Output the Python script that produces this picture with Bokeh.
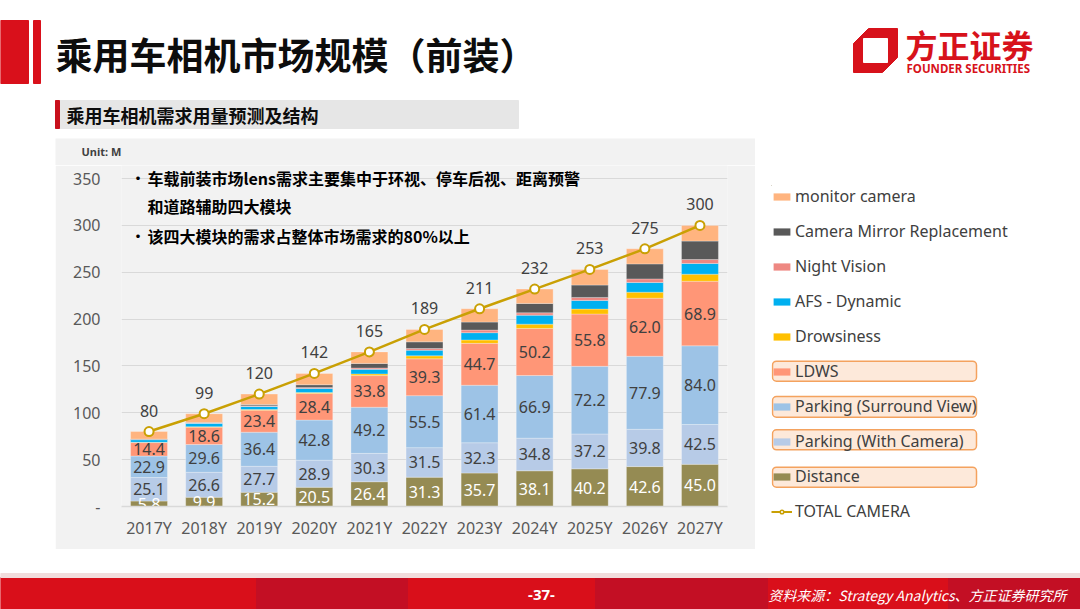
from bokeh.plotting import figure
from bokeh.models import (ColumnDataSource, FactorRange, Range1d, FixedTicker, Label,
                          Legend, LegendItem, BoxAnnotation, Spacer)
from bokeh.layouts import column, row
from bokeh.embed import file_html
from bokeh.resources import INLINE
from bokeh.core.properties import value
import numpy as np

# ---------------- data ----------------
years = ["2017Y", "2018Y", "2019Y", "2020Y", "2021Y", "2022Y", "2023Y", "2024Y", "2025Y", "2026Y", "2027Y"]
distance = [5.8, 9.9, 15.2, 20.5, 26.4, 31.3, 35.7, 38.1, 40.2, 42.6, 45.0]
parking_with_camera = [25.1, 26.6, 27.7, 28.9, 30.3, 31.5, 32.3, 34.8, 37.2, 39.8, 42.5]
parking_surround_view = [22.9, 29.6, 36.4, 42.8, 49.2, 55.5, 61.4, 66.9, 72.2, 77.9, 84.0]
ldws = [14.4, 18.6, 23.4, 28.4, 33.8, 39.3, 44.7, 50.2, 55.8, 62.0, 68.9]
drowsiness = [0.3, 0.5, 0.8, 1.1, 1.8, 3.2, 3.6, 4.6, 5.3, 6.4, 7.5]
afs_dynamic = [2.8, 3.6, 3.2, 4.3, 4.9, 6.0, 7.8, 9.6, 9.2, 10.3, 11.4]
night_vision = [0.1, 0.3, 0.7, 1.1, 1.4, 1.8, 2.8, 2.5, 3.2, 3.9, 4.3]
camera_mirror_replacement = [0.5, 0.6, 1.4, 2.8, 4.9, 7.1, 8.5, 10.0, 13.2, 16.0, 19.6]
monitor_camera = [8.1, 9.3, 11.2, 12.1, 12.3, 13.3, 14.2, 15.3, 16.7, 16.1, 16.8]
total_camera = [80, 99, 120, 142, 165, 189, 211, 232, 253, 275, 300]

y_ticks = [0, 50, 100, 150, 200, 250, 300, 350]

stack_keys = ["distance", "parking_wc", "parking_sv", "ldws", "drowsiness",
              "afs", "night", "cmr", "monitor"]
stack_values = [distance, parking_with_camera, parking_surround_view, ldws, drowsiness,
                afs_dynamic, night_vision, camera_mirror_replacement, monitor_camera]
stack_names = ["Distance", "Parking (With Camera)", "Parking (Surround View)", "LDWS",
               "Drowsiness", "AFS - Dynamic", "Night Vision", "Camera Mirror Replacement",
               "monitor camera"]
stack_colors = ["#958b53", "#b7cbe7", "#9dc3e6", "#ff9677", "#ffc000",
                "#00b0f0", "#ee8882", "#595959", "#ffb47f"]
LINE_COLOR = "#c9a004"
BG = "#f2f2f2"
TXT = "#404040"
LATIN = "Noto Sans"
CJK = "Noto Sans CJK SC"
RED = "#d7121b"


def no_align(fig):
    try:
        fig.frame_align = False
    except Exception:
        pass


# ---------------- chart ----------------
data = {"year": years, "total": total_camera}
for k, v in zip(stack_keys, stack_values):
    data[k] = v
source = ColumnDataSource(data)

# frame: 0 -> y 506, 350 -> y 178 ; frame top at y 165
p = figure(width=700, height=384, x_range=FactorRange(*years), y_range=Range1d(0, 363.9),
           output_backend="svg", toolbar_location=None,
           min_border_left=66, min_border_right=28, min_border_top=0, min_border_bottom=43,
           background_fill_color=BG, border_fill_color=BG, outline_line_color=None)
no_align(p)

p.vbar_stack(stack_keys, x="year", width=0.67, color=stack_colors, source=source,
             line_color="white", line_alpha=0.35, line_width=0.8)

cum = np.zeros(len(years))
label_specs = []
for k, v in zip(stack_keys, stack_values):
    arr = np.array(v, dtype=float)
    mids = cum + arr / 2.0
    cum = cum + arr
    label_specs.append((k, arr, mids))

for k, arr, mids in label_specs[:4]:
    src = ColumnDataSource(dict(year=years, mid=mids, lbl=[f"{a:.1f}" for a in arr]))
    p.text(x="year", y="mid", text="lbl", source=src, text_align="center",
           text_baseline="middle", text_font=value(LATIN), text_font_size="16px",
           text_color="white" if k == "distance" else TXT)

p.line(x="year", y="total", source=source, line_color=LINE_COLOR, line_width=2.5)
p.scatter(x="year", y="total", source=source, marker="circle", size=9,
          fill_color="white", line_color=LINE_COLOR, line_width=2)
tot_src = ColumnDataSource(dict(year=years, total=total_camera,
                                lbl=[str(t) for t in total_camera]))
p.text(x="year", y="total", text="lbl", source=tot_src, text_align="center",
       text_baseline="middle", y_offset=-21, text_font=value(LATIN),
       text_font_size="16px", text_color=TXT)

p.yaxis.ticker = FixedTicker(ticks=y_ticks)
p.yaxis.major_label_overrides = {0: "-"}
p.yaxis.axis_line_color = None
p.yaxis.major_tick_line_color = None
p.yaxis.minor_tick_line_color = None
p.yaxis.major_tick_out = 0
p.yaxis.minor_tick_out = 0
p.yaxis.major_label_standoff = 21
p.yaxis.major_label_text_font = LATIN
p.yaxis.major_label_text_font_size = "16px"
p.yaxis.major_label_text_color = "#595959"

p.xaxis.axis_line_color = "#d9d9d9"
p.xaxis.axis_line_width = 1.5
p.xaxis.major_tick_line_color = None
p.xaxis.minor_tick_line_color = None
p.xaxis.major_tick_out = 0
p.xaxis.minor_tick_out = 0
p.xaxis.major_label_standoff = 10
p.xaxis.major_label_text_font = LATIN
p.xaxis.major_label_text_font_size = "16px"
p.xaxis.major_label_text_color = "#595959"

p.xgrid.grid_line_color = None
p.ygrid.grid_line_color = "#d9d9d9"

for yy, txt, bullet in [(329, "车载前装市场lens需求主要集中于环视、停车后视、距离预警", True),
                        (301, "和道路辅助四大模块", False),
                        (271, "该四大模块的需求占整体市场需求的80%以上", True)]:
    if bullet:
        p.add_layout(Label(x=8, y=yy, x_units="screen", y_units="screen", text="•",
                           text_font=CJK, text_font_size="17px", text_color="#000000",
                           text_baseline="middle"))
    p.add_layout(Label(x=26, y=yy, x_units="screen", y_units="screen", text=txt,
                       text_font=CJK, text_font_style="bold", text_font_size="16px",
                       text_color="#000000", text_baseline="middle"))

# strip above the chart holding the unit note
u = figure(width=700, height=27, x_range=Range1d(55, 755), y_range=Range1d(165, 138),
           output_backend="svg", toolbar_location=None, x_axis_type=None, y_axis_type=None,
           min_border=0, outline_line_color=None, background_fill_color=BG,
           border_fill_color=BG)
no_align(u)
u.grid.visible = False
u.text(x=[81], y=[151], text=["Unit: M"], text_font=value(LATIN), text_font_style="bold",
       text_font_size="11px", text_color=TXT, text_baseline="middle")

# ---------------- legend panel ----------------
lg = figure(width=325, height=411, x_range=Range1d(771, 1080), y_range=Range1d(549, 185),
            output_backend="svg", toolbar_location=None, x_axis_type=None, y_axis_type=None,
            min_border_left=16, min_border_top=47, min_border_right=0, min_border_bottom=0,
            outline_line_color=None, background_fill_color="white", border_fill_color="white")
no_align(lg)
lg.grid.visible = False

items = []
for name, c, v in list(zip(stack_names, stack_colors, stack_values))[::-1]:
    # legend-only renderer, placed outside the visible range
    r = lg.vbar(x=[0], top=[v[0]], width=1, fill_color=c, line_color=None)
    items.append(LegendItem(label=name, renderers=[r]))
rl = lg.line(x=[0, 1], y=[total_camera[0], total_camera[1]], line_color=LINE_COLOR, line_width=2)
rs = lg.scatter(x=[0], y=[total_camera[0]], marker="circle", size=7, fill_color="white",
                line_color=LINE_COLOR, line_width=1.5)
items.append(LegendItem(label="TOTAL CAMERA", renderers=[rl, rs]))

legend = Legend(items=items, location="top_left", margin=0, padding=0, spacing=13,
                label_height=22, glyph_height=9, glyph_width=21, label_standoff=3,
                label_text_font=LATIN, label_text_font_size="16px", label_text_color=TXT,
                background_fill_alpha=0, border_line_color=None)
lg.add_layout(legend)

for top, bottom in [(360.7, 380.7), (396.0, 416.7), (429.3, 449.3), (466.7, 486.7)]:
    lg.add_layout(BoxAnnotation(left=772, right=976, top=top, bottom=bottom,
                                fill_color="#f9c8a2", fill_alpha=0.4,
                                line_color="#f4a25e", line_width=1.5, line_alpha=1.0,
                                border_radius=4))

# ---------------- header ----------------
h = figure(width=1080, height=138, x_range=Range1d(0, 1080), y_range=Range1d(138, 0),
           output_backend="svg", toolbar_location=None, x_axis_type=None, y_axis_type=None,
           min_border=0, outline_line_color=None, background_fill_color="white",
           border_fill_color="white")
no_align(h)
h.grid.visible = False
h.quad(left=[0, 33], right=[28, 40], top=[20, 20], bottom=[83, 83], color="#d9101b")
h.text(x=[55], y=[53], text=["乘用车相机市场规模（前装）"], text_font=value(CJK),
       text_font_style="bold", text_font_size="37px", text_color="#0d0d0d",
       text_baseline="middle")
h.quad(left=[55], right=[518], top=[100], bottom=[128], color="#e6e6e6")
h.quad(left=[55], right=[59], top=[100], bottom=[128], color="#c8101c")
h.text(x=[66], y=[114], text=["乘用车相机需求用量预测及结构"], text_font=value(CJK),
       text_font_style="bold", text_font_size="18px", text_color="#0d0d0d",
       text_baseline="middle")
h.patch(x=[853, 868, 897, 897, 882, 853], y=[43, 28, 28, 57, 72, 72], color=RED)
h.quad(left=[863], right=[887], top=[38], bottom=[62], color="white")
h.text(x=[905], y=[43], text=["方正证券"], text_font=value(CJK), text_font_style="bold",
       text_font_size="32px", text_color=RED, text_baseline="middle")
h.text(x=[906], y=[68], text=["FOUNDER SECURITIES"], text_font=value(LATIN),
       text_font_style="bold", text_font_size="11.5px", text_color=RED,
       text_baseline="middle")

# ---------------- footer ----------------
f = figure(width=1080, height=60, x_range=Range1d(0, 1080), y_range=Range1d(609, 549),
           output_backend="svg", toolbar_location=None, x_axis_type=None, y_axis_type=None,
           min_border=0, outline_line_color=None, background_fill_color="white",
           border_fill_color="white")
no_align(f)
f.grid.visible = False
f.quad(left=[0, 256, 408, 595, 768, 948], right=[256, 408, 595, 768, 948, 1080],
       top=[577] * 6, bottom=[609] * 6,
       color=["#d90f1a", "#c30f24", "#d90f1a", "#c30f24", "#d90f1a", "#c30f24"])
f.quad(left=[0], right=[1080], top=[573], bottom=[577], color="#f1dcdc")
f.text(x=[541], y=[594], text=["-37-"], text_font=value(LATIN), text_font_style="bold",
       text_font_size="15px", text_color="white", text_align="center",
       text_baseline="middle")
f.text(x=[1066], y=[594], text=["资料来源：Strategy Analytics、方正证券研究所"],
       text_font=value(CJK), text_font_style="italic", text_font_size="14px",
       text_color="white", text_align="right", text_baseline="middle")

middle = row(Spacer(width=55, height=411), column(u, p), lg)
layout = column(h, middle, f)

open("out.html", "w").write(file_html(layout, INLINE, "乘用车相机市场规模"))
